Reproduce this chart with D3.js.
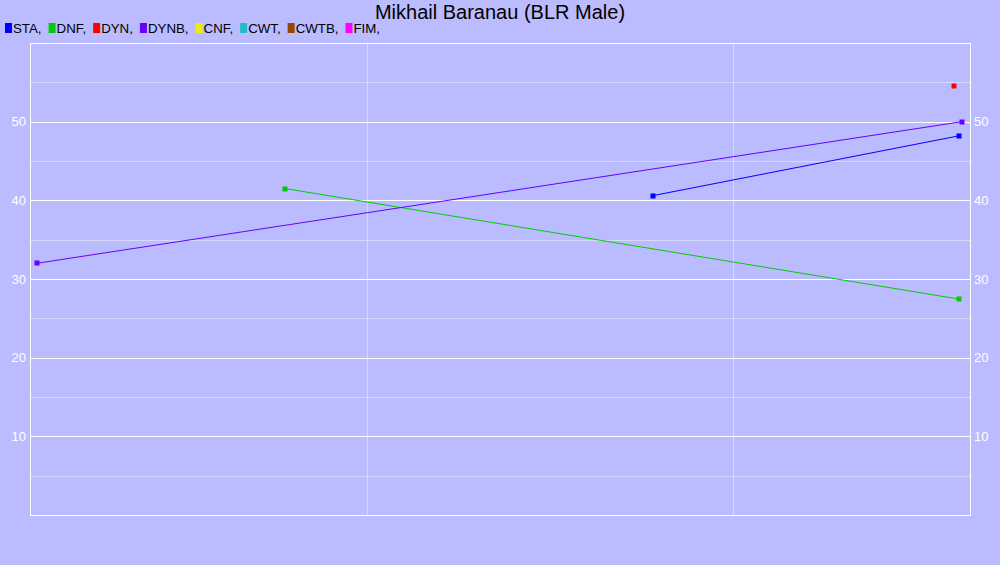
<!DOCTYPE html>
<html><head><meta charset="utf-8">
<script src="https://cdn.jsdelivr.net/npm/d3@7"></script>
<style>body{margin:0;background:#BBBBFF;}svg{display:block;}</style>
</head><body>
<script>
const title = "Mikhail Baranau (BLR Male)";
const disciplines = ["STA","DNF","DYN","DYNB","CNF","CWT","CWTB","FIM"];
const colors = ["#0000FF","#00CC00","#FF0000","#6600FF","#EEEE00","#22BBCC","#994400","#FF00FF"];
const xDomain = ["2011-01-29","2013-08-26"];
const yDomain = [0, 60];
const yTicks = [10,20,30,40,50];
const yMinorTicks = [5,15,25,35,45,55];
const STA = [["2012-10-13",40.6],["2013-08-15",48.2]];
const DNF = [["2011-10-11",41.5],["2013-08-15",27.45]];
const DYN = [["2013-08-10",54.5]];
const DYNB = [["2011-02-05",32.0],["2013-08-18",50.0]];
const seriesData = {STA, DNF, DYN, DYNB, CNF: [], CWT: [], CWTB: [], FIM: []};

const W = 1000, H = 565;
const m = {left:30, right:30, top:43, bottom:50};
const svg = d3.select("body").append("svg").attr("width",W).attr("height",H);
svg.append("rect").attr("width",W).attr("height",H).attr("fill","#BBBBFF");
const parse = d3.timeParse("%Y-%m-%d");
const x = d3.scaleTime().domain(xDomain.map(parse)).range([m.left, W-m.right]);
const y = d3.scaleLinear().domain(yDomain).range([H-m.bottom, m.top]);

// vertical year gridlines
const years = x.ticks(d3.timeYear.every(1));
svg.append("g").selectAll("line").data(years).join("line")
  .attr("x1",d=>Math.round(x(d))+0.5).attr("x2",d=>Math.round(x(d))+0.5)
  .attr("y1",m.top).attr("y2",H-m.bottom)
  .attr("stroke","#D8D8FF").attr("stroke-width",1);
// minor horizontal
svg.append("g").selectAll("line").data(yMinorTicks).join("line")
  .attr("x1",m.left).attr("x2",W-m.right)
  .attr("y1",d=>Math.round(y(d))+0.5).attr("y2",d=>Math.round(y(d))+0.5)
  .attr("stroke","#D8D8FF").attr("stroke-width",1);
// major horizontal
svg.append("g").selectAll("line").data(yTicks).join("line")
  .attr("x1",m.left).attr("x2",W-m.right)
  .attr("y1",d=>Math.round(y(d))+0.5).attr("y2",d=>Math.round(y(d))+0.5)
  .attr("stroke","#FFFFFF").attr("stroke-width",1);
// frame
svg.append("rect").attr("x",m.left+0.5).attr("y",m.top+0.5)
  .attr("width",W-m.right-m.left).attr("height",H-m.bottom-m.top)
  .attr("fill","none").attr("stroke","#FFFFFF");

// axes
const axL = d3.axisLeft(y).tickValues(yTicks).tickSize(0).tickPadding(4);
const axR = d3.axisRight(y).tickValues(yTicks).tickSize(0).tickPadding(4);
function styleAxis(g){
  g.select(".domain").remove();
  g.selectAll("text").attr("fill","#FFFFFF").style("font-family","Liberation Sans, Arial, sans-serif").style("font-size","13px");
}
svg.append("g").attr("transform",`translate(${m.left},0)`).call(axL).call(styleAxis);
svg.append("g").attr("transform",`translate(${W-m.right},0)`).call(axR).call(styleAxis);

// series
const line = d3.line().x(d=>x(parse(d[0]))).y(d=>y(d[1]));
disciplines.forEach((k,i)=>{
  const data = seriesData[k];
  if(!data.length) return;
  if(data.length>1) svg.append("path").datum(data).attr("d",line)
    .attr("fill","none").attr("stroke",colors[i]).attr("stroke-width",1);
  svg.append("g").selectAll("rect").data(data).join("rect")
    .attr("x",d=>Math.round(x(parse(d[0])))-2.5).attr("y",d=>Math.round(y(d[1]))-2.5)
    .attr("width",5).attr("height",5).attr("fill",colors[i]);
});

// title
svg.append("text").attr("x",500).attr("y",19).attr("text-anchor","middle")
  .style("font-family","Liberation Sans, Arial, sans-serif").style("font-size","20px")
  .attr("fill","#000").text(title);

// legend
let lx = 5;
const lg = svg.append("g");
disciplines.forEach((k,i)=>{
  lg.append("rect").attr("x",lx).attr("y",23).attr("width",7).attr("height",10).attr("fill",colors[i]);
  const t = lg.append("text").attr("x",lx+8).attr("y",33)
    .style("font-family","Liberation Sans, Arial, sans-serif").style("font-size","13.3px")
    .attr("fill","#000").text(k+",");
  lx += 8 + t.node().getComputedTextLength() + 7;
});
</script>
</body></html>
